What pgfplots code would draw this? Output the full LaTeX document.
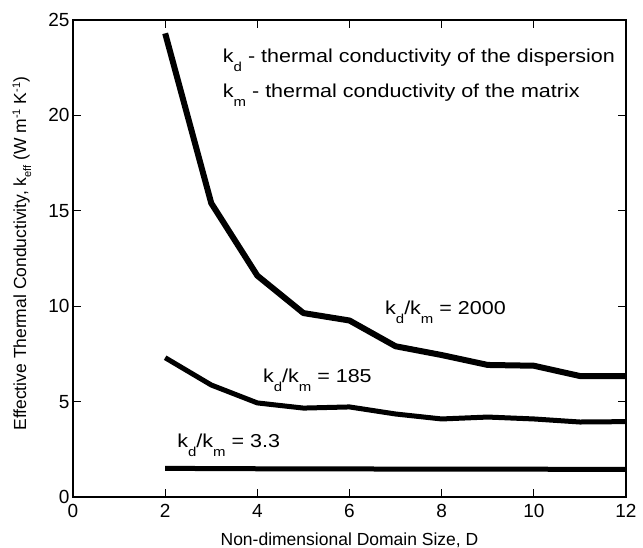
\documentclass[border=0pt]{standalone}
\usepackage{pgfplots}
\pgfplotsset{compat=1.18}
\usepackage{fontspec}
\setmainfont{Liberation Sans}
\newfontfamily\annotfont[FakeStretch=1.15]{Liberation Sans}
\newcommand{\lsub}[1]{\raisebox{-9pt}{\fontsize{13}{14}\selectfont #1}}
\newcommand{\ysub}[1]{\raisebox{-5pt}{\fontsize{11}{12}\selectfont #1}}
\newcommand{\lsup}[1]{\raisebox{6pt}{\fontsize{11}{12}\selectfont #1}}
\tikzset{annot/.style={anchor=base west, inner sep=0pt, font=\annotfont\fontsize{18.7}{21}\selectfont}}
\begin{document}
\begin{tikzpicture}
\begin{axis}[
  scale only axis,
  width=553pt, height=477pt,
  xmin=0, xmax=12, ymin=0, ymax=25,
  xtick={0,2,...,12}, ytick={0,5,...,25},
  tick align=inside,
  major tick length=8pt,
  tick style={line width=1.2pt, black},
  axis line style={line width=1.3pt},
  /pgf/number format/assume math mode=true,
  ticklabel style={font=\fontsize{19}{21}\selectfont},
  xticklabel style={yshift=-4pt},
  yticklabel style={xshift=0pt},
  label style={font=\fontsize{17.5}{20}\selectfont},
  xlabel={Non-dimensional Domain Size, D},
  ylabel={Effective Thermal Conductivity, k\ysub{eff} (W m\lsup{-1} K\lsup{-1})},
  xlabel style={at={(axis description cs:0.5,-0.09)}, anchor=center},
  ylabel style={at={(axis description cs:-0.0922,0.51)}, anchor=center},
  clip=false,
]
\addplot[black, line width=6pt, line join=round] coordinates {
  (2,24.3) (3,15.4) (4,11.6) (5,9.64) (6,9.25) (7,7.9) (8,7.44) (9,6.92) (10,6.88) (11,6.34) (12,6.34)};
\addplot[black, line width=5pt, line join=round] coordinates {
  (2,7.3) (3,5.87) (4,4.93) (5,4.66) (6,4.72) (7,4.35) (8,4.09) (9,4.19) (10,4.09) (11,3.93) (12,3.95)};
\addplot[black, line width=5pt] coordinates {
  (2,1.5) (4,1.48) (8,1.46) (12,1.45)};
\node[annot] at (axis cs:3.25,22.75) {k\lsub{d} - thermal conductivity of the dispersion};
\node[annot] at (axis cs:3.25,20.96) {k\lsub{m} - thermal conductivity of the matrix};
\node[annot] at (axis cs:6.77,9.54) {k\lsub{d}/k\lsub{m} = 2000};
\node[annot] at (axis cs:4.12,5.98) {k\lsub{d}/k\lsub{m} = 185};
\node[annot] at (axis cs:2.26,2.62) {k\lsub{d}/k\lsub{m} = 3.3};
\coordinate (ll) at (rel axis cs:0,0);
\coordinate (ur) at (rel axis cs:1,1);
\end{axis}
\pgfresetboundingbox
\path ([shift={(-73pt,-51pt)}]ll) rectangle ([shift={(17pt,20pt)}]ur);
\end{tikzpicture}
\end{document}
